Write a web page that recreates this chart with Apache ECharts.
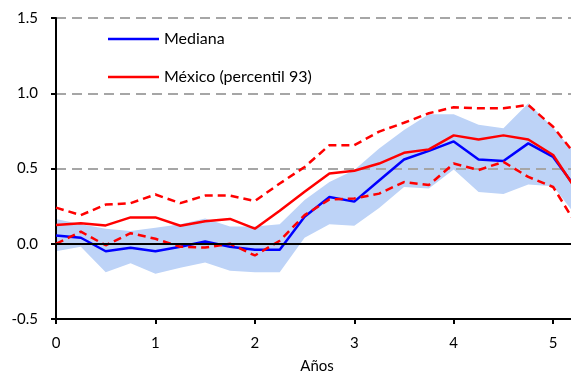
<!DOCTYPE html>
<html>
<head>
<meta charset="utf-8">
<script src="https://cdn.jsdelivr.net/npm/echarts@6/dist/echarts.min.js"></script>
<style>
  html, body { margin: 0; padding: 0; background: #fff; }
  #chart { width: 571px; height: 376px; }
</style>
</head>
<body>
<div id="chart"></div>
<script>
  // horizonte en años (trimestral)
  var years = [0, 0.25, 0.5, 0.75, 1, 1.25, 1.5, 1.75, 2, 2.25, 2.5, 2.75,
               3, 3.25, 3.5, 3.75, 4, 4.25, 4.5, 4.75, 5, 5.25];
  var yTicks = [-0.5, 0, 0.5, 1.0, 1.5];

  var mediana = [0.055, 0.04, -0.05, -0.027, -0.05, -0.02, 0.015, -0.02, -0.04, -0.04, 0.18,
                 0.31, 0.28, 0.42, 0.56, 0.617, 0.68, 0.56, 0.55, 0.667, 0.577, 0.35];
  var mexico = [0.125, 0.137, 0.122, 0.175, 0.175, 0.12, 0.15, 0.165, 0.1, 0.22, 0.345,
                0.467, 0.485, 0.533, 0.604, 0.627, 0.72, 0.693, 0.72, 0.693, 0.59, 0.34];
  var mexicoSup = [0.24, 0.19, 0.26, 0.27, 0.327, 0.27, 0.32, 0.32, 0.284, 0.4, 0.51,
                   0.655, 0.655, 0.745, 0.804, 0.867, 0.907, 0.9, 0.9, 0.922, 0.777, 0.57];
  var mexicoInf = [0.0, 0.08, -0.01, 0.07, 0.033, -0.02, -0.025, 0.0, -0.078, 0.02, 0.19,
                   0.295, 0.3, 0.333, 0.41, 0.39, 0.533, 0.49, 0.544, 0.444, 0.377, 0.11];
  var bandaSup = [0.165, 0.13, 0.1, 0.084, 0.107, 0.13, 0.167, 0.115, 0.115, 0.13, 0.29,
                  0.41, 0.49, 0.633, 0.755, 0.86, 0.86, 0.79, 0.767, 0.933, 0.77, 0.58];
  var bandaInf = [-0.05, -0.02, -0.19, -0.13, -0.2, -0.16, -0.125, -0.18, -0.19, -0.19, 0.04,
                  0.13, 0.12, 0.237, 0.377, 0.367, 0.493, 0.344, 0.33, 0.393, 0.382, 0.17];

  function pairs(vals) {
    return years.map(function (x, i) { return [x, vals[i]]; });
  }

  var chart = echarts.init(document.getElementById('chart'));
  var font = 'Lato, "Open Sans", sans-serif';

  // banda sombreada: un solo poligono entre bandaInf y bandaSup
  function renderBand(params, api) {
    if (params.dataIndex !== 0) return;
    var pts = [];
    for (var i = 0; i < years.length; i++) pts.push(api.coord([years[i], bandaSup[i]]));
    for (var j = years.length - 1; j >= 0; j--) pts.push(api.coord([years[j], bandaInf[j]]));
    return {
      type: 'polygon',
      shape: { points: pts },
      style: { fill: '#bdd3f7' }
    };
  }

  var option = {
    animation: false,
    textStyle: { fontFamily: font },
    grid: { left: 56, right: -7, top: 18, bottom: 57, outerBoundsMode: 'none', containLabel: false },
    legend: {
      data: [
        { name: 'Mediana', icon: 'rect' },
        { name: 'México (percentil 93)', icon: 'rect' }
      ],
      orient: 'vertical',
      left: 108,
      top: 31,
      padding: 0,
      itemWidth: 51,
      itemHeight: 2.5,
      itemGap: 22,
      textStyle: { fontSize: 16, color: '#000', fontFamily: font }
    },
    xAxis: {
      type: 'value',
      min: 0,
      max: 5.25,
      interval: 1,
      name: 'Años',
      nameLocation: 'middle',
      nameGap: 40,
      nameTextStyle: { fontSize: 15, color: '#000' },
      axisLine: { onZero: false, lineStyle: { color: '#000', width: 2 } },
      axisTick: { length: 5, lineStyle: { color: '#000', width: 2 } },
      axisLabel: { showMaxLabel: false, margin: 17, fontSize: 15, color: '#000' },
      splitLine: { show: false }
    },
    yAxis: {
      type: 'value',
      min: yTicks[0],
      max: yTicks[yTicks.length - 1],
      interval: 0.5,
      axisLine: { show: true, lineStyle: { color: '#000', width: 2 } },
      axisTick: { show: true, length: 5, lineStyle: { color: '#000', width: 2 } },
      axisLabel: {
        margin: 18, fontSize: 15, color: '#000',
        formatter: function (v) { return v.toFixed(1); }
      },
      splitLine: { lineStyle: { color: '#a6a6a6', width: 2, type: [10, 6] } }
    },
    series: [
      {
        name: 'banda',
        type: 'custom',
        z: -1,
        silent: true,
        renderItem: renderBand,
        data: pairs(bandaSup)
      },
      {
        name: 'cero',
        type: 'line',
        z: 1,
        symbol: 'none',
        data: [],
        markLine: {
          silent: true,
          symbol: ['none', 'none'],
          label: { show: false },
          lineStyle: { color: '#000', width: 2, type: 'solid' },
          data: [{ yAxis: 0 }]
        }
      },
      {
        name: 'Mediana',
        type: 'line',
        symbol: 'none',
        color: '#0000ff',
        lineStyle: { color: '#0000ff', width: 2.5 },
        data: pairs(mediana)
      },
      {
        name: 'México (percentil 93)',
        type: 'line',
        symbol: 'none',
        color: '#ff0000',
        lineStyle: { color: '#ff0000', width: 2.5 },
        data: pairs(mexico)
      },
      {
        name: 'supMex',
        type: 'line',
        symbol: 'none',
        lineStyle: { color: '#ff0000', width: 2.5, type: [8, 5] },
        data: pairs(mexicoSup)
      },
      {
        name: 'infMex',
        type: 'line',
        symbol: 'none',
        lineStyle: { color: '#ff0000', width: 2.5, type: [8, 5] },
        data: pairs(mexicoInf)
      }
    ]
  };

  chart.setOption(option);
</script>
</body>
</html>
